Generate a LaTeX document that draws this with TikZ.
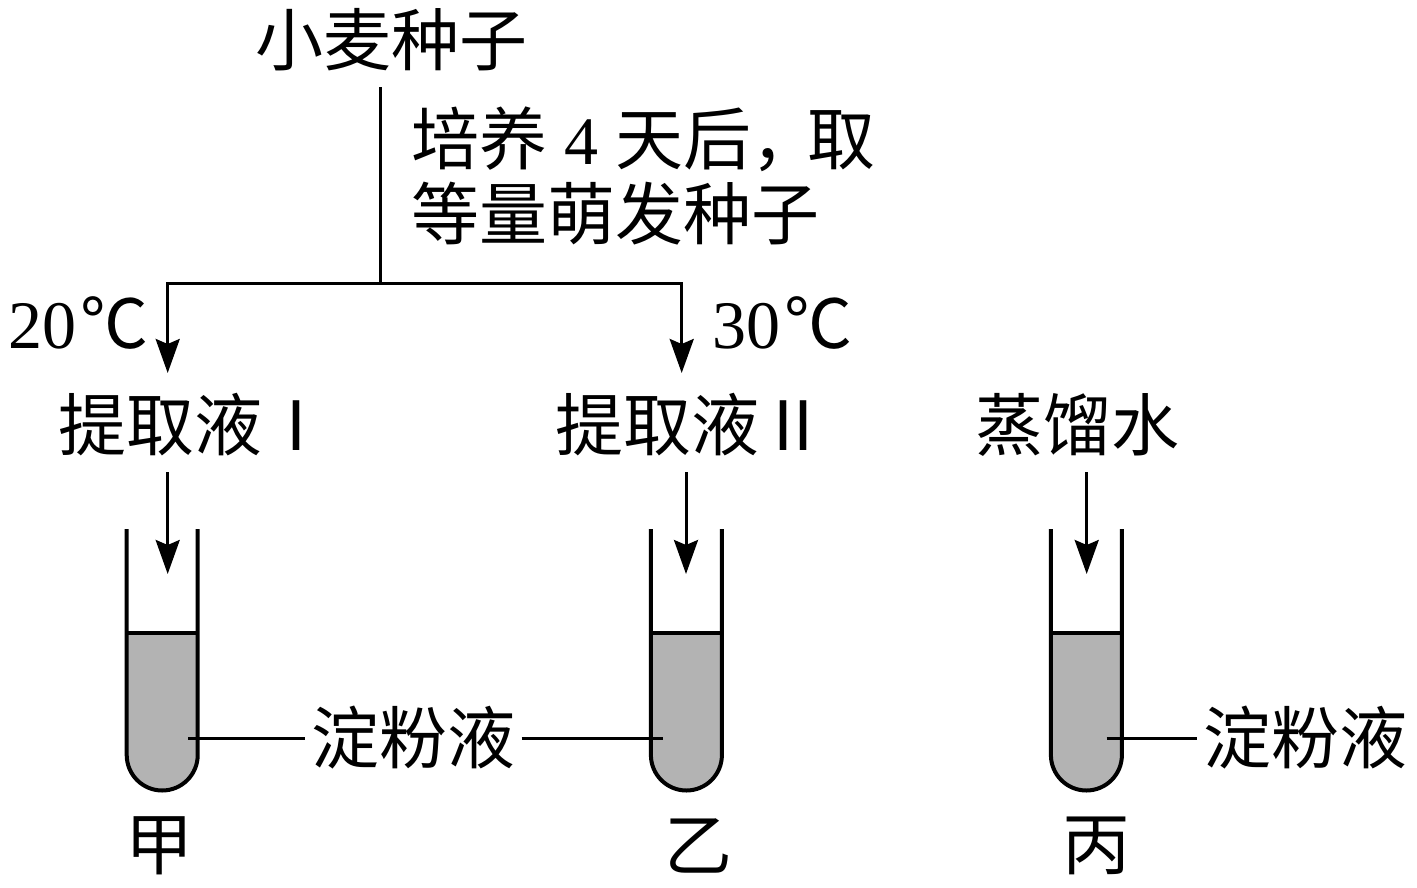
\documentclass[tikz,border=0pt]{standalone}
\usepackage{fontspec}
\setmainfont{Liberation Serif}
\newfontfamily\cjk{Noto Sans CJK SC}
\usetikzlibrary{arrows.meta}
\begin{document}
\begin{tikzpicture}[x=1pt,y=-1pt,
  txt/.style={inner sep=0pt, font=\cjk\fontsize{68}{75}\selectfont},
  num/.style={inner sep=0pt, font=\fontsize{68}{75}\selectfont},
  conn/.style={line width=3pt},
  arr/.style={line width=3pt, -{Stealth[length=34pt,width=24pt,inset=5pt]}},
  wall/.style={line width=4pt},
  lbl/.style={line width=3pt}
]
\definecolor{liquid}{RGB}{179,179,179}
\useasboundingbox (0,0) rectangle (1417,887);

% texts
\node[txt] (seed) at (391,40) {小麦种子};
\node[num, anchor=north west, align=left] (step) at (411,107)
  {{\cjk 培养} 4 {\cjk 天后，\kern-12pt 取}\\{\cjk 等量萌发种子}};
\node[num, anchor=base west] (t20) at (8,348) {20\kern4pt{\cjk ℃}};
\node[num, anchor=base west] (t30) at (712,348) {30\kern4pt{\cjk ℃}};
\node[txt] (ext1) at (194,425) {提取液Ⅰ};
\node[txt] (ext2) at (691,425) {提取液Ⅱ};
\node[txt] (water) at (1077,425) {蒸馏水};
\node[txt, inner xsep=6pt] (starch1) at (413.5,738) {淀粉液};
\node[txt, inner xsep=6pt] (starch2) at (1305,738) {淀粉液};
\node[txt] (jia) at (159,846) {甲};
\node[txt] (yi) at (698,846) {乙};
\node[txt] (bing) at (1096,846) {丙};

% branching connectors
\coordinate (top) at (380,87);
\coordinate (split) at (380,283);
\coordinate (u1) at (167.7,373);
\coordinate (u2) at (681.7,373);
\draw[conn] (top) -- (split);
\draw[arr] (split) -| (u1);
\draw[arr] (split) -| (u2);

% arrows into the tubes
\coordinate (d1s) at (167.7,472); \coordinate (d1e) at (167.7,574);
\coordinate (d2s) at (686,472);   \coordinate (d2e) at (686,574);
\coordinate (d3s) at (1086.7,472);\coordinate (d3e) at (1086.7,574);
\draw[arr] (d1s) -- (d1e);
\draw[arr] (d2s) -- (d2e);
\draw[arr] (d3s) -- (d3e);

% test tubes
\foreach \c in {162.2,686.4,1086.4}{
  \fill[liquid] (\c-35.5,633) -- (\c-35.5,755)
     arc[start angle=180,end angle=0,radius=35.5] -- (\c+35.5,633) -- cycle;
  \draw[wall] (\c-35.5,529) -- (\c-35.5,755)
     arc[start angle=180,end angle=0,radius=35.5] -- (\c+35.5,529);
  \draw[wall] (\c-35.5,633) -- (\c+35.5,633);
}

% label lines
\coordinate (l1) at (188,738);
\coordinate (l2) at (663,738);
\coordinate (l3) at (1106.7,738);
\draw[lbl] (l1) -- (starch1.west);
\draw[lbl] (starch1.east) -- (l2);
\draw[lbl] (l3) -- (starch2.west);
\end{tikzpicture}
\end{document}
